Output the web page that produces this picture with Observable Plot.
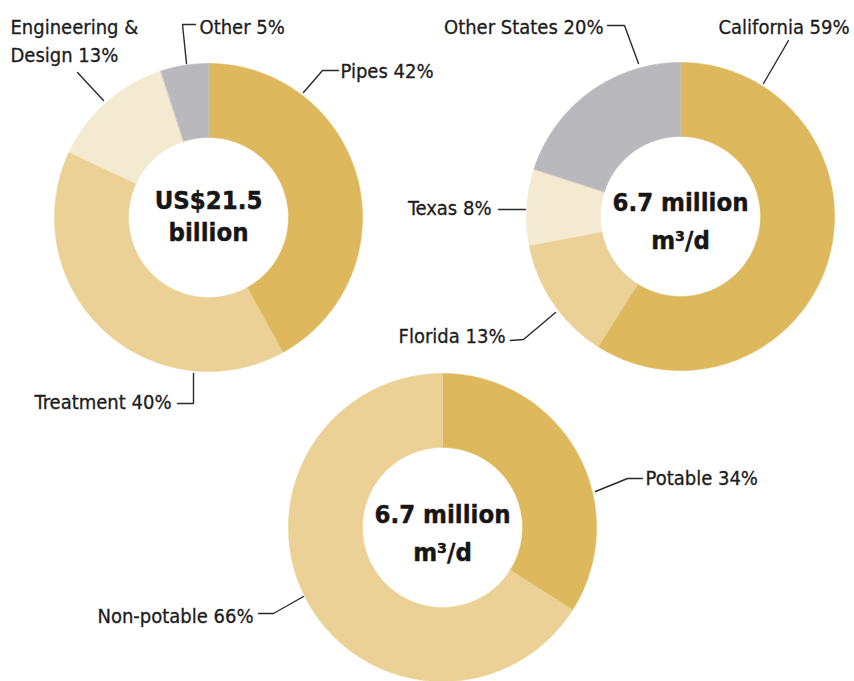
<!DOCTYPE html>
<html>
<head>
<meta charset="utf-8">
<script src="https://cdn.jsdelivr.net/npm/d3@7"></script>
<script src="https://cdn.jsdelivr.net/npm/@observablehq/plot@0.6"></script>
<style>
  html, body { margin: 0; padding: 0; background: #fff; }
  #chart { width: 854px; height: 681px; overflow: hidden; }
</style>
</head>
<body>
<div id="chart"></div>
<script>
// ---------- DATA ----------
const investCategories = ["Pipes", "Treatment", "Engineering & Design", "Other"];
const investShares = [42, 40, 13, 5];
const investLabels = ["Pipes 42%", "Treatment 40%", "Engineering &\nDesign 13%", "Other 5%"];
const investTotal = "US$21.5\nbillion";

const stateCategories = ["California", "Florida", "Texas", "Other States"];
const stateShares = [59, 13, 8, 20];
const stateLabels = ["California 59%", "Florida 13%", "Texas 8%", "Other States 20%"];
const stateTotal = "6.7 million\nm³/d";

const useCategories = ["Potable", "Non-potable"];
const useShares = [34, 66];
const useLabels = ["Potable 34%", "Non-potable 66%"];
const useTotal = "6.7 million\nm³/d";

// ---------- LAYOUT / STYLE ----------
const W = 854, H = 681;
const outerR = 154, innerR = 80;
const tones = ["dark", "mid", "light", "grey"];
const toneColors = ["#DEB85C", "#EBD196", "#F4EAD2", "#B9B9BD"];

const donuts = [
  {id: "invest", cx: 208, cy: 217, cats: investCategories, vals: investShares, labels: investLabels,
   tone: ["dark", "mid", "light", "grey"], total: investTotal, lineGap: 32, lastBaseline: 240,
   labelPos: [
     {x: 340, y: 77, anchor: "start", leader: [[338,70],[322,70],[303,92]]},
     {x: 171, y: 408, anchor: "end", leader: [[177,403],[193,403],[193,373]]},
     {x: 10, y: 61, anchor: "start", leader: [[77,72],[103,100]]},
     {x: 199, y: 33, anchor: "start", leader: [[195,24],[182,24],[186,63]]}
   ]},
  {id: "states", cx: 680, cy: 216, cats: stateCategories, vals: stateShares, labels: stateLabels,
   tone: ["dark", "mid", "light", "grey"], total: stateTotal, lineGap: 38, lastBaseline: 248,
   labelPos: [
     {x: 718, y: 33, anchor: "start", leader: [[788,40],[763,83]]},
     {x: 505, y: 342, anchor: "end", leader: [[510,340],[523,339],[555,312]]},
     {x: 491, y: 214, anchor: "end", leader: [[498,209],[525,209]]},
     {x: 603, y: 33, anchor: "end", leader: [[607,25],[624,25],[638,63]]}
   ]},
  {id: "use", cx: 442, cy: 527, cats: useCategories, vals: useShares, labels: useLabels,
   tone: ["dark", "mid"], total: useTotal, lineGap: 38, lastBaseline: 560,
   labelPos: [
     {x: 645, y: 484, anchor: "start", leader: [[642,478],[627,478],[595,491]]},
     {x: 253, y: 622, anchor: "end", leader: [[258,613],[273,613],[303,596]]}
   ]}
];

// ---------- BUILD TABLES ----------
const pie = d3.pie().sort(null).startAngle(0).endAngle(2 * Math.PI);
const slicePts = [];
const labelRows = [];
const leaderRows = [];
const centerRows = [];
for (const d of donuts) {
  const arcs = pie(d.vals);
  arcs.forEach((a, i) => {
    const key = d.id + ":" + d.cats[i];
    const n = Math.max(2, Math.ceil((a.endAngle - a.startAngle) / (Math.PI / 360)));
    const pts = [];
    for (let k = 0; k <= n; k++) {
      const t = a.startAngle + (a.endAngle - a.startAngle) * k / n;
      pts.push([d.cx + outerR * Math.sin(t), d.cy - outerR * Math.cos(t)]);
    }
    for (let k = n; k >= 0; k--) {
      const t = a.startAngle + (a.endAngle - a.startAngle) * k / n;
      pts.push([d.cx + innerR * Math.sin(t), d.cy - innerR * Math.cos(t)]);
    }
    pts.forEach(([x, y]) => slicePts.push({key, tone: d.tone[i], x, y}));
    const lp = d.labelPos[i];
    labelRows.push({x: lp.x, y: lp.y, anchor: lp.anchor, text: d.labels[i]});
    lp.leader.forEach(([x, y]) => leaderRows.push({key, x, y}));
  });
  centerRows.push({id: d.id, x: d.cx, y: d.lastBaseline, text: d.total, gap: d.lineGap});
}

const font = "'DejaVu Sans Condensed', 'DejaVu Sans', sans-serif";
const centerSize = 25.5;
const centerMarks = centerRows.map(c =>
  Plot.text([c], {
    x: "x", y: "y", text: "text",
    lineAnchor: "bottom", lineHeight: c.gap / centerSize,
    fontSize: centerSize, fontWeight: "bold",
    fill: "#161616", stroke: "#161616", strokeWidth: 0.4, textAnchor: "middle"
  })
);

const labelStyle = {x: "x", y: "y", text: "text", lineAnchor: "bottom", lineHeight: 1.4,
  fontSize: 20, fill: "#1c1c1c", stroke: "#1c1c1c", strokeWidth: 0.3};

const chart = Plot.plot({
  width: W, height: H,
  margin: 0,
  x: {domain: [0, W], range: [0, W], axis: null},
  y: {domain: [0, H], range: [0, H], axis: null},
  color: {domain: tones, range: toneColors},
  style: {fontFamily: font, fontStretch: "condensed", background: "#fff"},
  marks: [
    Plot.line(slicePts, {x: "x", y: "y", z: "key", fill: "tone", stroke: "tone", strokeWidth: 0.6, curve: "linear-closed"}),
    Plot.line(leaderRows, {x: "x", y: "y", z: "key", stroke: "#2a2a2a", strokeWidth: 1.4}),
    Plot.text(labelRows.filter(r => r.anchor === "start"), {...labelStyle, textAnchor: "start"}),
    Plot.text(labelRows.filter(r => r.anchor === "end"), {...labelStyle, textAnchor: "end"}),
    ...centerMarks
  ]
});
document.getElementById("chart").append(chart);
</script>
</body>
</html>
